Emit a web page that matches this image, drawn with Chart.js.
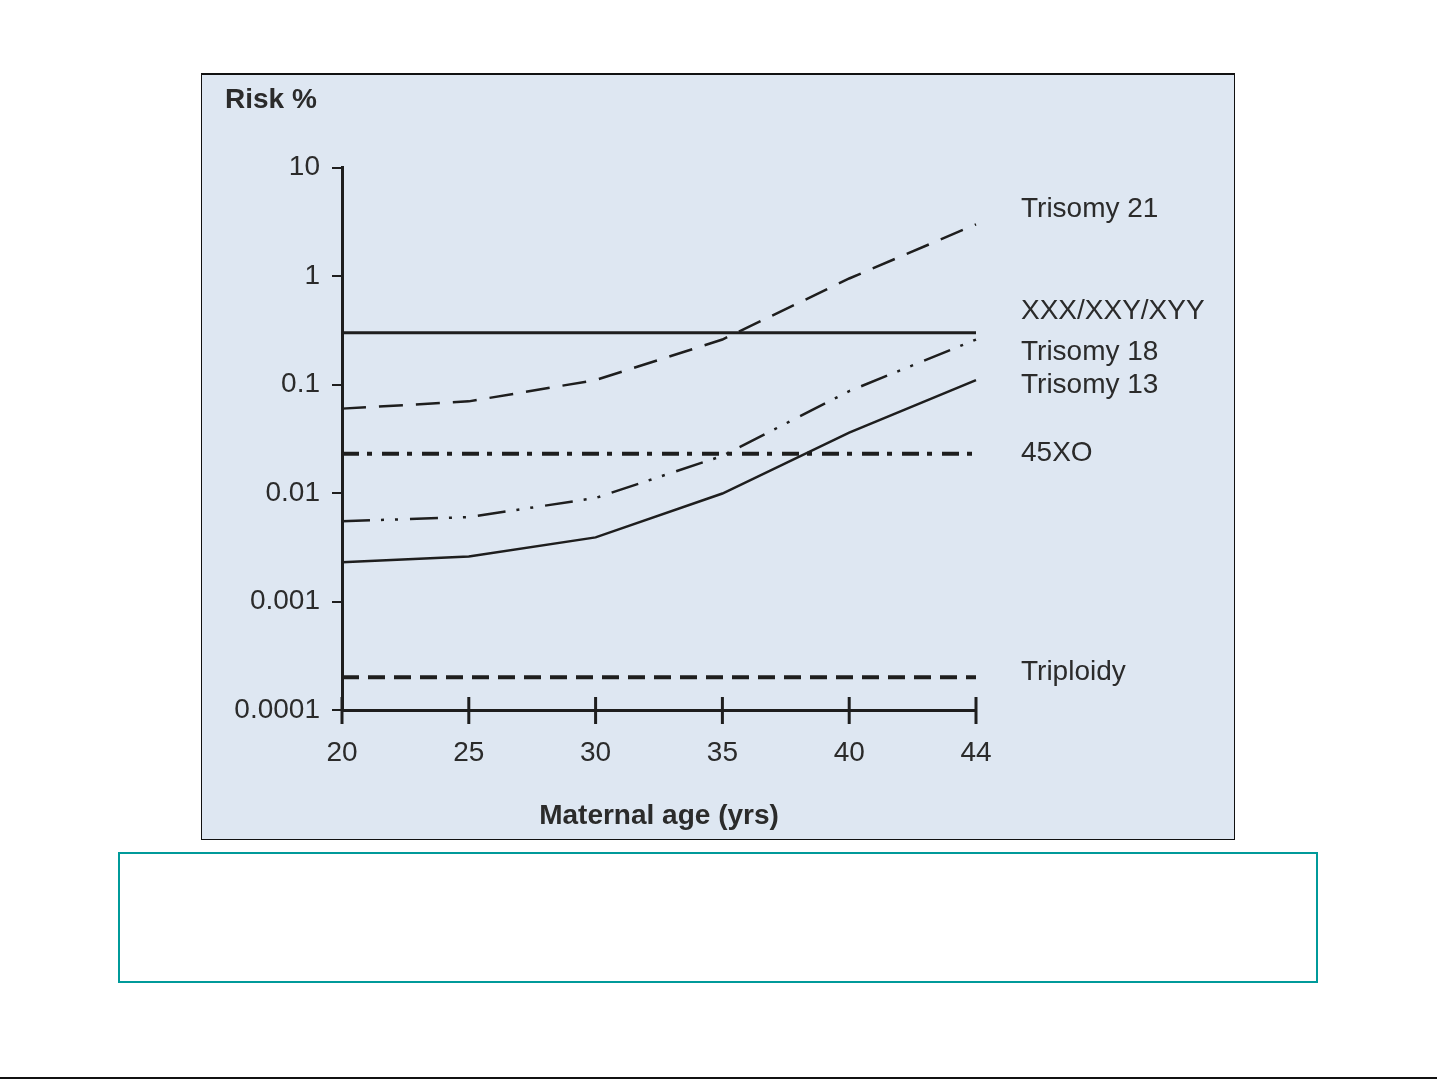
<!DOCTYPE html>
<html>
<head>
<meta charset="utf-8">
<script src="https://cdn.jsdelivr.net/npm/chart.js@4.4.0/dist/chart.umd.min.js"></script>
<style>
  body { margin: 0; background: #fff; width: 1437px; height: 1079px; position: relative; overflow: hidden; }
  #panel { position: absolute; left: 201px; top: 73px; width: 1034px; height: 767px; box-sizing: border-box;
           background: #dee7f2; border: 1px solid #111; border-top-width: 2px; }
  #wrap { position: absolute; left: 202px; top: 75px; width: 1032px; height: 764px; }
  #note { position: absolute; left: 118px; top: 852px; width: 1200px; height: 131px; box-sizing: border-box;
          border: 2px solid #009a9a; }
  #rule { position: absolute; left: 0; top: 1077px; width: 1437px; height: 2px; background: #111; }
</style>
</head>
<body>
<div id="panel"></div>
<div id="wrap"><canvas id="riskChart"></canvas></div>
<div id="note"></div>
<div id="rule"></div>
<script>
// maternal age categories (axis is evenly spaced, 40 -> 44 same width as 5 yrs)
const ages = ['20', '25', '30', '35', '40', '44'];

// risk %
const trisomy21 = [0.06, 0.07, 0.11, 0.26, 0.95, 3.0];
const sexChrom = [0.3, 0.3, 0.3, 0.3, 0.3, 0.3];
const trisomy18 = [0.0055, 0.006, 0.009, 0.022, 0.087, 0.26];
const trisomy13 = [0.0023, 0.0026, 0.0039, 0.0099, 0.036, 0.11];
const xo45 = [0.023, 0.023, 0.023, 0.023, 0.023, 0.023];
const triploidy = [0.0002, 0.0002, 0.0002, 0.0002, 0.0002, 0.0002];

const seriesNames = ['Trisomy 21', 'XXX/XXY/XYY', 'Trisomy 18', 'Trisomy 13', '45XO', 'Triploidy'];
const yTickValues = [0.0001, 0.001, 0.01, 0.1, 1, 10];
const yTickLabels = ['0.0001', '0.001', '0.01', '0.1', '1', '10'];

const ink = '#1e1e1e';
const txt = '#2b2b2b';
const fontFam = '"Liberation Sans", Arial, Helvetica, sans-serif';

// vertical nudge of each right hand label from its line end (px)
const labelNudge = [-15, -22, 13, 5, -1, -5];

function mkSet(label, data, width, dash) {
	return {
		label: label,
		data: data,
		borderColor: ink,
		borderWidth: width,
		borderDash: dash,
		pointRadius: 0,
		tension: 0,
		fill: false
	};
}

// ticks that cross the x axis line
const crossTicks = {
	id: 'crossTicks',
	afterDraw(chart) {
		const ctx = chart.ctx, x = chart.scales.x, bottom = chart.chartArea.bottom;
		ctx.save();
		ctx.strokeStyle = ink;
		ctx.lineWidth = 3;
		for (let i = 0; i < x.ticks.length; i++) {
			const px = x.getPixelForTick(i);
			ctx.beginPath();
			ctx.moveTo(px, bottom - 13);
			ctx.lineTo(px, bottom + 14);
			ctx.stroke();
		}
		ctx.restore();
	}
};

// series names at the right end of each line
const endLabels = {
	id: 'endLabels',
	afterDatasetsDraw(chart) {
		const ctx = chart.ctx, y = chart.scales.y, right = chart.chartArea.right;
		ctx.save();
		ctx.font = '28px ' + fontFam;
		ctx.fillStyle = txt;
		ctx.textAlign = 'left';
		ctx.textBaseline = 'middle';
		chart.data.datasets.forEach((ds, i) => {
			const last = ds.data[ds.data.length - 1];
			ctx.fillText(ds.label, right + 45, y.getPixelForValue(last) + labelNudge[i]);
		});
		ctx.restore();
	}
};

new Chart(document.getElementById('riskChart').getContext('2d'), {
	type: 'line',
	data: {
		labels: ages,
		datasets: [
			mkSet(seriesNames[0], trisomy21, 2.5, [24, 13]),
			mkSet(seriesNames[1], sexChrom, 3, []),
			mkSet(seriesNames[2], trisomy18, 2.5, [28, 11, 3, 11, 3, 12]),
			mkSet(seriesNames[3], trisomy13, 2.5, []),
			mkSet(seriesNames[4], xo45, 4, [17, 8, 5, 10]),
			mkSet(seriesNames[5], triploidy, 4, [17, 9])
		]
	},
	plugins: [crossTicks, endLabels],
	options: {
		responsive: true,
		maintainAspectRatio: false,
		animation: false,
		layout: { padding: { left: 23, right: 258, top: 0, bottom: 0 } },
		plugins: {
			legend: { display: false },
			tooltip: { enabled: false },
			title: {
				display: true,
				text: 'Risk %',
				align: 'start',
				color: txt,
				font: { family: fontFam, size: 28, weight: 'bold' },
				padding: { top: 8, bottom: 51 }
			}
		},
		scales: {
			x: {
				type: 'category',
				offset: false,
				grid: { display: true, drawOnChartArea: false, drawTicks: false },
				border: { display: true, color: ink, width: 3 },
				ticks: { color: txt, font: { family: fontFam, size: 28 }, padding: 26, maxRotation: 0, autoSkip: false },
				title: {
					display: true,
					text: 'Maternal age (yrs)',
					color: txt,
					font: { family: fontFam, size: 28, weight: 'bold' },
					padding: { top: 0, bottom: 6 }
				},
				afterFit(scale) { scale.height = 129; }
			},
			y: {
				type: 'logarithmic',
				min: 0.0001,
				max: 10,
				grid: { display: true, drawOnChartArea: false, drawTicks: true, tickLength: 10, color: ink, lineWidth: 2 },
				border: { display: true, color: ink, width: 3 },
				ticks: {
					color: txt,
					font: { family: fontFam, size: 28 },
					padding: 12,
					autoSkip: false,
					callback: function (value) {
						const idx = yTickValues.indexOf(value);
						return idx >= 0 ? yTickLabels[idx] : '';
					}
				},
				afterBuildTicks(scale) {
					scale.ticks = yTickValues.map(v => ({ value: v }));
				},
				afterFit(scale) { scale.width = 117; }
			}
		}
	}
});
</script>
</body>
</html>
